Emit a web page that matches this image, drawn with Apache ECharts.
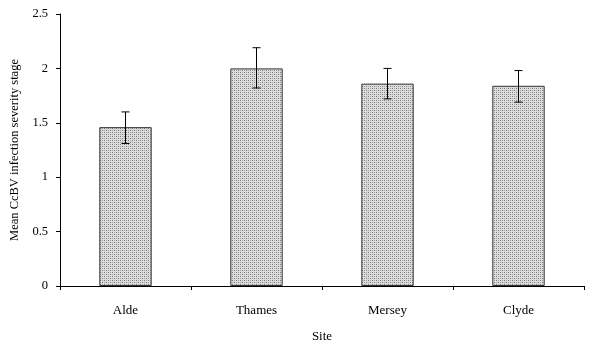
<!DOCTYPE html>
<html><head><meta charset="utf-8">
<script src="https://cdn.jsdelivr.net/npm/echarts@6/dist/echarts.min.js"></script>
<style>html,body{margin:0;padding:0;background:#fff}#c{width:615px;height:344px}</style>
</head><body><div id="c"></div>
<script>
var categories = ['Alde', 'Thames', 'Mersey', 'Clyde'];
var means = [1.46, 2.0, 1.86, 1.84];
var errLow = [1.31, 1.82, 1.72, 1.69];
var errHigh = [1.60, 2.19, 2.00, 1.98];
var yTicks = [0, 0.5, 1, 1.5, 2, 2.5];

var pc = document.createElement('canvas');
pc.width = 4; pc.height = 4;
var g = pc.getContext('2d');
g.fillStyle = '#dcdcdc'; g.fillRect(0, 0, 4, 4);
g.fillStyle = '#7a7a7a';
g.fillRect(0, 0, 1, 1); g.fillRect(2, 2, 1, 1);
g.fillStyle = '#a8a8a8';
g.fillRect(2, 0, 1, 1); g.fillRect(0, 2, 1, 1);

var chart = echarts.init(document.getElementById('c'));
var font = 'Liberation Serif';
chart.setOption({
  animation: false,
  grid: {left: 60, right: 31, top: 14, bottom: 58, containLabel: false, outerBoundsMode: 'none'},
  xAxis: {
    type: 'category', data: categories,
    name: 'Site', nameLocation: 'middle', nameGap: 44,
    nameTextStyle: {fontFamily: font, fontSize: 13, color: '#000'},
    axisLine: {lineStyle: {color: '#000', width: 1}},
    axisTick: {show: true, length: 4, lineStyle: {color: '#000'}},
    axisLabel: {fontFamily: font, fontSize: 13, color: '#000', margin: 18}
  },
  yAxis: {
    type: 'value', min: 0, max: 2.5, interval: 0.5,
    name: 'Mean CcBV infection severity stage', nameLocation: 'middle', nameGap: 30,
    nameTextStyle: {fontFamily: font, fontSize: 12.5, color: '#000'},
    axisLine: {show: true, lineStyle: {color: '#000', width: 1}},
    axisTick: {show: true, length: 4, lineStyle: {color: '#000'}},
    axisLabel: {fontFamily: font, fontSize: 12.5, color: '#000', margin: 12,
      formatter: function (v) { return yTicks.indexOf(v) >= 0 ? String(v) : ''; }},
    splitLine: {show: false}
  },
  series: [{
    type: 'bar', data: means, barWidth: '40%',
    itemStyle: {color: {image: pc, repeat: 'repeat'}, borderColor: '#333', borderWidth: 1}
  }, {
    type: 'custom',
    data: categories.map(function (c, i) { return [i, errLow[i], errHigh[i]]; }),
    encode: {x: 0, y: [1, 2]},
    z: 10,
    renderItem: function (params, api) {
      var x = api.value(0);
      var lo = api.coord([x, api.value(1)]);
      var hi = api.coord([x, api.value(2)]);
      var hw = 4;
      var st = {stroke: '#000', lineWidth: 1};
      return {type: 'group', children: [
        {type: 'line', shape: {x1: hi[0], y1: hi[1], x2: lo[0], y2: lo[1]}, style: st},
        {type: 'line', shape: {x1: hi[0] - hw, y1: hi[1], x2: hi[0] + hw, y2: hi[1]}, style: st},
        {type: 'line', shape: {x1: lo[0] - hw, y1: lo[1], x2: lo[0] + hw, y2: lo[1]}, style: st}
      ]};
    }
  }]
});
</script></body></html>
